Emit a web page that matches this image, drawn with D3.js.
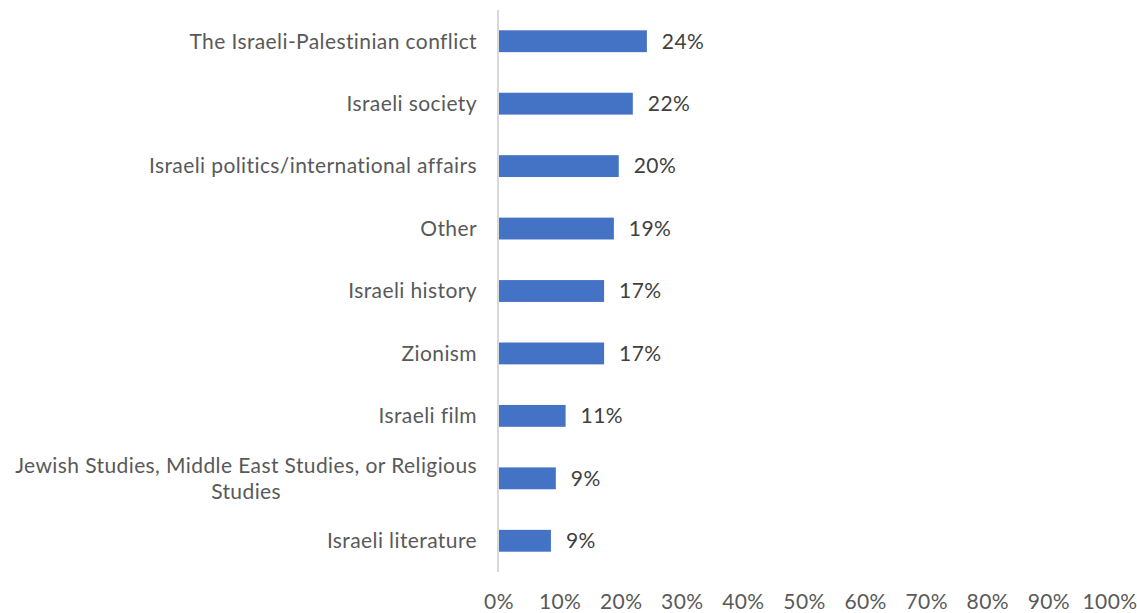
<!DOCTYPE html>
<html>
<head>
<meta charset="utf-8">
<script src="https://cdn.jsdelivr.net/npm/d3@7"></script>
<style>
  body { margin: 0; background: #fff; }
  svg { font-family: Lato, "Open Sans", sans-serif; letter-spacing: 0.4px; }
</style>
</head>
<body>
<svg id="chart" width="1137" height="613"></svg>
<script>
const categories = [
  'The Israeli-Palestinian conflict',
  'Israeli society',
  'Israeli politics/international affairs',
  'Other',
  'Israeli history',
  'Zionism',
  'Israeli film',
  'Jewish Studies, Middle East Studies, or Religious Studies',
  'Israeli literature'
]
const values = [0.242, 0.219, 0.196, 0.188, 0.172, 0.172, 0.109, 0.093, 0.085]
const ticks = [0, 0.1, 0.2, 0.3, 0.4, 0.5, 0.6, 0.7, 0.8, 0.9, 1]

const MARGINS = { top: 10, left: 499, bottom: 41, right: 27 }
const W = 1137, H = 613
const FS = 21

const svg = d3.select('#chart')
const width = W - MARGINS.left - MARGINS.right
const height = H - MARGINS.top - MARGINS.bottom

const x = d3.scaleLinear().domain([0, 1]).range([0, width])
const y = d3.scaleBand().domain(categories).range([0, height]).paddingInner(0.65).paddingOuter(0.325)

const g = svg.append('g').attr('transform', `translate(${MARGINS.left},${MARGINS.top})`)
const pct = d3.format('.0%')

// bars
g.selectAll('rect.bar').data(categories).join('rect')
  .attr('class', 'bar')
  .attr('x', 0)
  .attr('y', d => y(d))
  .attr('width', (d, i) => x(values[i]))
  .attr('height', y.bandwidth())
  .attr('fill', '#4472C4')

// value labels
g.selectAll('text.val').data(categories).join('text')
  .attr('class', 'val')
  .attr('x', (d, i) => x(values[i]) + 15)
  .attr('y', d => y(d) + y.bandwidth() / 2)
  .attr('dy', '0.35em')
  .attr('font-size', FS)
  .attr('fill', '#404040')
  .text((d, i) => pct(values[i]))

// vertical axis line
g.append('line')
  .attr('x1', -1).attr('x2', -1)
  .attr('y1', 0).attr('y2', height)
  .attr('stroke', '#d9d9d9').attr('stroke-width', 2)

// x tick labels
g.append('g').selectAll('text').data(ticks).join('text')
  .attr('x', d => x(d))
  .attr('y', height + 30)
  .attr('dy', '0.35em')
  .attr('text-anchor', 'middle')
  .attr('font-size', FS)
  .attr('fill', '#595959')
  .text(d => pct(d))

// category labels, wrapped when too long
const labelRight = -22
const maxW = 470
categories.forEach(cat => {
  const t = g.append('text')
    .attr('font-size', FS)
    .attr('fill', '#595959')
  const words = cat.split(' ')
  let lines = [], cur = []
  const probe = t.append('tspan')
  words.forEach(w => {
    const test = cur.concat(w).join(' ')
    probe.text(test)
    if (probe.node().getComputedTextLength() > maxW && cur.length) {
      lines.push(cur.join(' '))
      cur = [w]
    } else {
      cur.push(w)
    }
  })
  lines.push(cur.join(' '))
  probe.remove()

  const cy = y(cat) + y.bandwidth() / 2
  const lh = 26
  if (lines.length === 1) {
    t.attr('text-anchor', 'end')
      .append('tspan').attr('x', labelRight).attr('y', cy).attr('dy', '0.35em').text(lines[0])
  } else {
    // widest line sets the block; lines are centred in it
    let widest = 0
    lines.forEach(l => {
      const s = t.append('tspan').text(l)
      widest = Math.max(widest, s.node().getComputedTextLength())
      s.remove()
    })
    const cx = labelRight - widest / 2
    t.attr('text-anchor', 'middle')
    lines.forEach((l, i) => {
      t.append('tspan')
        .attr('x', cx)
        .attr('y', cy + (i - (lines.length - 1) / 2) * lh)
        .attr('dy', '0.35em')
        .text(l)
    })
  }
})
</script>
</body>
</html>
